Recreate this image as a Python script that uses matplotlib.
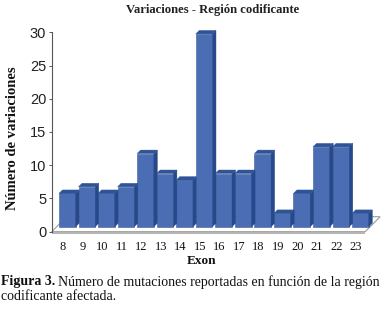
import matplotlib
matplotlib.use("Agg")
import matplotlib.pyplot as plt
from matplotlib.patches import Polygon, Rectangle
import numpy as np

exons = ["8", "9", "10", "11", "12", "13", "14", "15", "16", "17", "18", "19", "20", "21", "22", "23"]
counts = [5, 6, 5, 6, 11, 8, 7, 29, 8, 8, 11, 2, 5, 12, 12, 2]
yticks = [0, 5, 10, 15, 20, 25, 30]

title = "Variaciones - Región codificante"
ylabel = "Número de variaciones"
xlabel = "Exon"

W, H = 385, 314
fig = plt.figure(figsize=(W / 100, H / 100), dpi=100)
fig.patch.set_facecolor("white")

# axes placed in pixel units
ax_l, ax_r = 51.7, 380.0
ax_top, ax_bot = 32.3, 231.7
ax = fig.add_axes([ax_l / W, (H - ax_bot) / H, (ax_r - ax_l) / W, (ax_bot - ax_top) / H])
ax.set_xlim(-0.8, 16.0)
ax.set_ylim(0, 30)

px_x = (ax_r - ax_l) / 16.8   # pixels per x unit
px_y = (ax_bot - ax_top) / 30.0  # pixels per y unit

serif = "Liberation Serif"
sans = "Liberation Sans"

# floor
fdx, fdy = 15 / px_x, 15 / px_y
x_front_l, x_front_r = -0.8, 15.24
floor = Polygon([(x_front_l, 0), (x_front_r, 0), (x_front_r + fdx, fdy), (x_front_l + fdx, fdy)],
                closed=True, facecolor="white", edgecolor="#9a9a9a", lw=0.8, zorder=1, clip_on=False)
ax.add_patch(floor)
ax.add_patch(Rectangle((x_front_l, -2.2 / px_y), x_front_r - x_front_l, 2.2 / px_y,
                       facecolor="#b5b5b5", edgecolor="none", zorder=1, clip_on=False))

# bars (pseudo 3D)
base = 5.0 / px_y
width = 0.855
ddx, ddy = 3.5 / px_x, 3.5 / px_y
front_c, side_c, top_c = "#4a6db3", "#27488a", "#2e5397"
x = np.arange(len(counts))
ax.bar(x, counts, width=width, bottom=base, color=front_c, edgecolor="#3d5e9f", lw=0.4, zorder=3)
for xi, v in zip(x, counts):
    l, r = xi - width / 2, xi + width / 2
    t = base + v
    side = Polygon([(r, base), (r + ddx, base + ddy), (r + ddx, t + ddy), (r, t)], closed=True,
                   facecolor=side_c, edgecolor=side_c, lw=0.3, zorder=3, clip_on=False)
    top = Polygon([(l, t), (r, t), (r + ddx, t + ddy), (l + ddx, t + ddy)], closed=True,
                  facecolor=top_c, edgecolor=top_c, lw=0.3, zorder=3, clip_on=False)
    ax.add_patch(side)
    ax.add_patch(top)

# axes styling
for s in ["top", "right", "bottom"]:
    ax.spines[s].set_visible(False)
ax.spines["left"].set_color("#555555")
ax.spines["left"].set_linewidth(0.8)
ax.set_yticks(yticks)
ax.set_yticklabels([str(v) for v in yticks], fontfamily=sans, fontsize=10.5, color="#222222")
ax.tick_params(axis="y", length=2.5, width=0.7, color="#555555", pad=1.5)
ax.set_xticks(x - 0.22)
ax.set_xticklabels(exons, fontfamily=serif, fontsize=9, color="#111111")
ax.tick_params(axis="x", length=0, pad=7)
ax.set_facecolor("none")

fig.text(213 / W, 1 - 9.5 / H, title, ha="center", va="center", fontfamily=serif,
         fontweight="bold", fontsize=9.1, color="#222222")
fig.text(201 / W, 1 - 261.5 / H, xlabel, ha="center", va="center", fontfamily=serif,
         fontweight="bold", fontsize=9.5, color="#111111")
fig.text(12.7 / W, 1 - 138 / H, ylabel, ha="center", va="center", rotation=90, fontfamily=serif,
         fontweight="bold", fontsize=10.5, color="#111111")

# caption
t1 = fig.text(1 / W, 1 - 282 / H, "Figura 3.", ha="left", va="center", fontfamily=serif,
              fontweight="bold", fontsize=10, color="#111111")
fig.canvas.draw()
bb = t1.get_window_extent()
fig.text((bb.x1 + 3) / W, 1 - 282 / H, "Número de mutaciones reportadas en función de la región",
         ha="left", va="center", fontfamily=serif, fontsize=10, color="#111111")
fig.text(1 / W, 1 - 297 / H, "codificante afectada.", ha="left", va="center", fontfamily=serif,
         fontsize=10, color="#111111")

fig.savefig("out.png", dpi=100, facecolor="white")
